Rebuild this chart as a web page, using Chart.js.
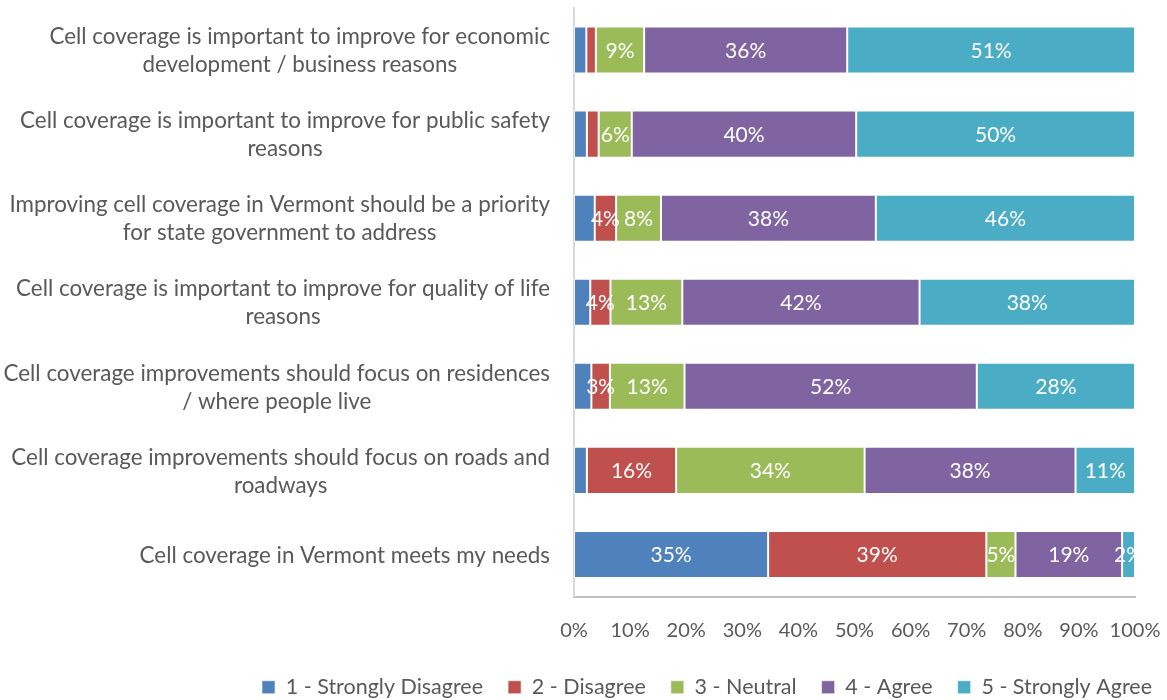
<!DOCTYPE html>
<html>
<head>
<meta charset="utf-8">
<title>Cell coverage survey</title>
<script src="https://cdn.jsdelivr.net/npm/chart.js@4.4.1/dist/chart.umd.min.js"></script>
<style>
  html, body { margin: 0; padding: 0; background: #ffffff; }
  #wrap { position: relative; width: 1167px; height: 700px; }
</style>
</head>
<body>
<div id="wrap"><canvas id="chart" width="1167" height="700"></canvas></div>
<script>
// Survey statements, top to bottom (each entry is the wrapped lines of the label)
const statements = [
  ["Cell coverage is important to improve for economic", "development / business reasons"],
  ["Cell coverage is important to improve for public safety", "reasons"],
  ["Improving cell coverage in Vermont should be a priority", "for state government to address"],
  ["Cell coverage is important to improve for quality of life", "reasons"],
  ["Cell coverage improvements should focus on residences", "/ where people live"],
  ["Cell coverage improvements should focus on roads and", "roadways"],
  ["Cell coverage in Vermont meets my needs"]
];

// Share of respondents (%) per response level
const stronglyDisagree = [2.2, 2.3, 3.7, 2.9, 3.1, 2.3, 34.6];
const disagree         = [1.7, 2.1, 3.8, 3.6, 3.3, 15.9, 38.9];
const neutral          = [8.6, 5.9, 8.0, 12.8, 13.3, 33.6, 5.2];
const agree            = [36.2, 40.0, 38.3, 42.3, 52.1, 37.6, 19.0];
const stronglyAgree    = [51.3, 49.7, 46.2, 38.4, 28.2, 10.6, 2.3];

const responseNames = ["1 - Strongly Disagree", "2 - Disagree", "3 - Neutral", "4 - Agree", "5 - Strongly Agree"];
const axisTicks = [0, 10, 20, 30, 40, 50, 60, 70, 80, 90, 100];

const FONT = "Lato, 'Open Sans', sans-serif";
const TEXT = "#595959";

const series = [stronglyDisagree, disagree, neutral, agree, stronglyAgree];
const colors = ["#4F81BD", "#C0504D", "#9BBB59", "#8064A2", "#4BACC6"];
// smallest segment (in %) that gets a value label, per series
const labelMin = [10, 3, 0, 0, 0];

const datasets = series.map((vals, i) => ({
  label: responseNames[i],
  data: vals,
  backgroundColor: colors[i],
  borderColor: "rgba(255,255,255,0.55)",
  borderWidth: 1,
  borderSkipped: false,
  barPercentage: 0.56,
  categoryPercentage: 1.0,
  labelMin: labelMin[i]
}));

// Centered white percentage labels inside the bar segments
const segmentLabels = {
  id: "segmentLabels",
  afterDatasetsDraw(chart) {
    const ctx = chart.ctx;
    const area = chart.chartArea;
    ctx.save();
    ctx.beginPath();
    ctx.rect(area.left, area.top, area.right - area.left, area.bottom - area.top);
    ctx.clip();
    ctx.font = "21px " + FONT;
    ctx.fillStyle = "#ffffff";
    ctx.textAlign = "center";
    ctx.textBaseline = "middle";
    chart.data.datasets.forEach((ds, di) => {
      const meta = chart.getDatasetMeta(di);
      meta.data.forEach((bar, idx) => {
        const v = ds.data[idx];
        if (v < ds.labelMin) return;
        const x = (bar.x + bar.base) / 2;
        ctx.fillText(Math.round(v) + "%", x, bar.y + 1);
      });
    });
    ctx.restore();
  }
};

// Right-aligned category labels with centered wrapped lines
const statementLabels = {
  id: "statementLabels",
  afterDraw(chart) {
    const ctx = chart.ctx;
    const yScale = chart.scales.y;
    const rightEdge = chart.chartArea.left - 24;
    const lineH = 28;
    ctx.save();
    ctx.font = "22.4px " + FONT;
    ctx.fillStyle = TEXT;
    ctx.textAlign = "center";
    ctx.textBaseline = "middle";
    statements.forEach((lines, i) => {
      const cy = yScale.getPixelForTick(i) + 1;
      const w = Math.max(...lines.map(l => ctx.measureText(l).width));
      const cx = rightEdge - w / 2;
      const y0 = cy - (lines.length - 1) * lineH / 2;
      lines.forEach((l, k) => ctx.fillText(l, cx, y0 + k * lineH));
    });
    ctx.restore();
  }
};

// Legend row starts under the middle of the page rather than at the left edge
const legendOffset = {
  id: "legendOffset",
  afterLayout(chart) {
    const lg = chart.legend;
    if (!lg) return;
    const shift = 262 - lg.options.labels.padding - lg.left;
    lg.left += shift;
    lg.right += shift;
  }
};

new Chart(document.getElementById("chart"), {
  type: "bar",
  data: { labels: statements, datasets },
  options: {
    indexAxis: "y",
    responsive: false,
    animation: false,
    layout: { padding: { top: 8, right: 32, bottom: -8, left: 0 } },
    scales: {
      x: {
        stacked: true,
        min: 0,
        max: 100,
        afterBuildTicks(scale) { scale.ticks = axisTicks.map(v => ({ value: v })); },
        afterFit(scale) {
          scale.height -= 13;
          scale.paddingLeft = 0;
          scale.paddingRight = 0;
        },
        grid: { display: false, drawTicks: false },
        border: { display: true, color: "#BFBFBF", width: 2 },
        ticks: {
          padding: 22,
          color: TEXT,
          font: { family: FONT, size: 20 },
          maxRotation: 0,
          autoSkip: false,
          callback: v => v + "%"
        }
      },
      y: {
        stacked: true,
        grid: { display: false, drawTicks: false },
        border: { display: true, color: "#D9D9D9", width: 2 },
        ticks: { display: false },
        afterFit(scale) { scale.width = 574; }
      }
    },
    plugins: {
      legend: {
        position: "bottom",
        align: "start",
        labels: {
          boxWidth: 13,
          boxHeight: 13,
          padding: 25,
          color: TEXT,
          font: { family: FONT, size: 21.5 }
        }
      },
      tooltip: { enabled: false }
    }
  },
  plugins: [segmentLabels, statementLabels, legendOffset]
});
</script>
</body>
</html>
